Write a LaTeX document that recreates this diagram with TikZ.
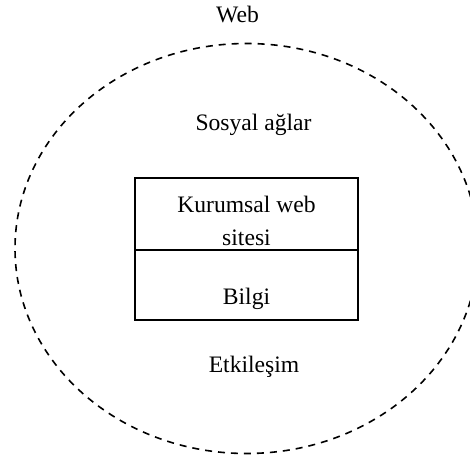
\documentclass[tikz,border=0pt]{standalone}
\usepackage{fontspec}
\setmainfont{Liberation Serif}
\begin{document}
\begin{tikzpicture}[x=1pt,y=-1pt,
  lbl/.style={anchor=base,inner sep=0pt,font=\fontsize{23.6}{28}\selectfont},
  boxpart/.style={draw,line width=1.5pt,minimum width=223pt,inner sep=0pt},
  webline/.style={line width=1.6pt,dash pattern=on 7pt off 6pt}]
\useasboundingbox (0,0) rectangle (470,460);
\clip (0,0) rectangle (470,460);
\draw[webline] (246.5,248.5) ellipse [x radius=231.5pt, y radius=205pt];
\node[boxpart,minimum height=72pt] (site) at (246.5,214) {};
\node[boxpart,minimum height=70pt] (info) at (246.5,285) {};
\node[lbl] (web) at (237.5,23) {Web};
\node[lbl] (sosyal) at (253.5,130) {Sosyal ağlar};
\node[lbl] (kurumsal) at (246.5,212) {Kurumsal web};
\node[lbl] (sitesi) at (246.5,245) {sitesi};
\node[lbl] (bilgi) at (246.5,304) {Bilgi};
\node[lbl] (etk) at (254,372) {Etkileşim};
\end{tikzpicture}
\end{document}
